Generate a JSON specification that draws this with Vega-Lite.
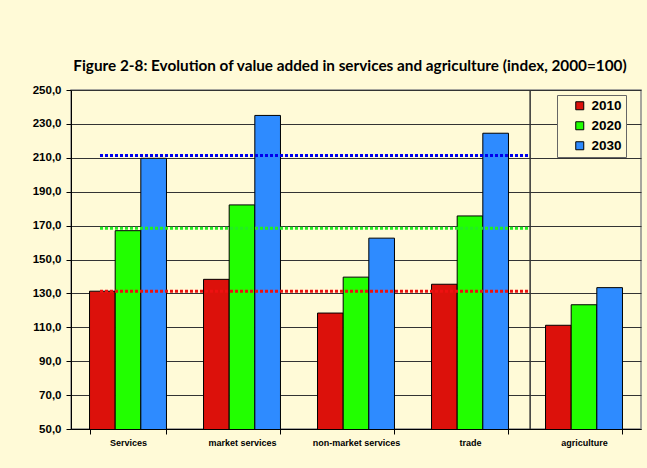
{
  "$schema": "https://vega.github.io/schema/vega-lite/v6.json",
  "width": 570,
  "height": 339,
  "autosize": "none",
  "padding": {"left": 71, "top": 90, "right": 6, "bottom": 39},
  "background": "#FFFAD7",
  "title": {
    "text": "Figure 2-8: Evolution of value added in services and agriculture (index, 2000=100)",
    "font": "Lato",
    "fontSize": 15.3,
    "fontWeight": "bold",
    "color": "#000000",
    "anchor": "middle",
    "dx": -6,
    "offset": 10
  },
  "config": {
    "view": {"stroke": "#8a8a8a", "strokeWidth": 1.5, "fill": "#FFFAD7"}
  },
  "datasets": {
    "bars": [
      {"category": "Services", "year": "2010", "value": 131.3},
      {"category": "Services", "year": "2020", "value": 167.0},
      {"category": "Services", "year": "2030", "value": 209.7},
      {"category": "market services", "year": "2010", "value": 138.3},
      {"category": "market services", "year": "2020", "value": 182.2},
      {"category": "market services", "year": "2030", "value": 235.0},
      {"category": "non-market services", "year": "2010", "value": 118.4},
      {"category": "non-market services", "year": "2020", "value": 139.6},
      {"category": "non-market services", "year": "2030", "value": 162.6},
      {"category": "trade", "year": "2010", "value": 135.4},
      {"category": "trade", "year": "2020", "value": 175.7},
      {"category": "trade", "year": "2030", "value": 224.5},
      {"category": "agriculture", "year": "2010", "value": 111.2},
      {"category": "agriculture", "year": "2020", "value": 123.3},
      {"category": "agriculture", "year": "2030", "value": 133.4}
    ],
    "refs": [
      {"year": "2010", "value": 131.3, "from": "Services", "to": "agriculture"},
      {"year": "2020", "value": 168.4, "from": "Services", "to": "agriculture"},
      {"year": "2030", "value": 211.3, "from": "Services", "to": "agriculture"}
    ],
    "sep": [{"category": "agriculture"}]
  },
  "layer": [
    {
      "data": {"name": "bars"},
      "mark": {"type": "bar", "stroke": "#000000", "strokeWidth": 1, "clip": true},
      "encoding": {
        "x": {
          "field": "category",
          "type": "nominal",
          "scale": {
            "domain": ["Services", "market services", "non-market services", "trade", "agriculture"],
            "paddingInner": 0.325,
            "paddingOuter": 0.1625
          },
          "axis": {
            "title": null,
            "labelAngle": 0,
            "labelFont": "Liberation Sans",
            "labelFontWeight": "bold",
            "labelFontSize": 9,
            "labelColor": "#000000",
            "labelPadding": 4,
            "labelOverlap": false,
            "tickBand": "extent",
            "tickSize": 5,
            "tickColor": "#000000",
            "domainColor": "#000000",
            "grid": false
          }
        },
        "xOffset": {
          "field": "year",
          "type": "nominal",
          "scale": {"paddingInner": 0, "paddingOuter": 0}
        },
        "y": {
          "field": "value",
          "type": "quantitative",
          "scale": {"domain": [50, 250], "nice": false, "zero": false},
          "axis": {
            "title": null,
            "values": [50, 70, 90, 110, 130, 150, 170, 190, 210, 230, 250],
            "tickCount": 11,
            "labelOverlap": false,
            "labelExpr": "replace(format(datum.value, '.1f'), '.', ',')",
            "labelFont": "Liberation Sans",
            "labelFontWeight": "bold",
            "labelFontSize": 11.5,
            "labelColor": "#000000",
            "labelPadding": 5,
            "tickSize": 5,
            "tickColor": "#000000",
            "domainColor": "#000000",
            "grid": true,
            "gridColor": "#333333",
            "gridWidth": 1
          }
        },
        "color": {
          "field": "year",
          "type": "nominal",
          "scale": {"domain": ["2010", "2020", "2030"], "range": ["#DC110B", "#22FF00", "#2E8BFF"]},
          "legend": {
            "orient": "none",
            "legendX": 486,
            "legendY": 5,
            "title": null,
            "symbolType": "square",
            "symbolSize": 64,
            "symbolStrokeColor": "#000000",
            "symbolStrokeWidth": 1,
            "symbolOffset": 12,
            "labelExpr": "datum.label + '    '",
            "labelFont": "Liberation Sans",
            "labelFontWeight": "bold",
            "labelFontSize": 13.5,
            "labelColor": "#000000",
            "labelOffset": 5,
            "fillColor": "#FFFAD7",
            "strokeColor": "#666666",
            "padding": 4,
            "rowPadding": 5
          }
        }
      }
    },
    {
      "data": {"name": "refs"},
      "mark": {"type": "rule", "strokeWidth": 3, "strokeDash": [3, 2]},
      "encoding": {
        "x": {"field": "from", "type": "nominal", "bandPosition": 0.136},
        "x2": {"field": "to", "bandPosition": -0.2},
        "y": {"field": "value", "type": "quantitative"},
        "color": {
          "field": "year",
          "type": "nominal",
          "scale": {"domain": ["2010", "2020", "2030"], "range": ["#EE1111", "#22EE22", "#0000EE"]},
          "legend": null
        }
      }
    },
    {
      "data": {"name": "sep"},
      "mark": {"type": "rule", "color": "#333333", "strokeWidth": 1.5},
      "encoding": {
        "x": {"field": "category", "type": "nominal", "bandPosition": -0.2}
      }
    }
  ],
  "resolve": {"scale": {"color": "independent"}}
}
